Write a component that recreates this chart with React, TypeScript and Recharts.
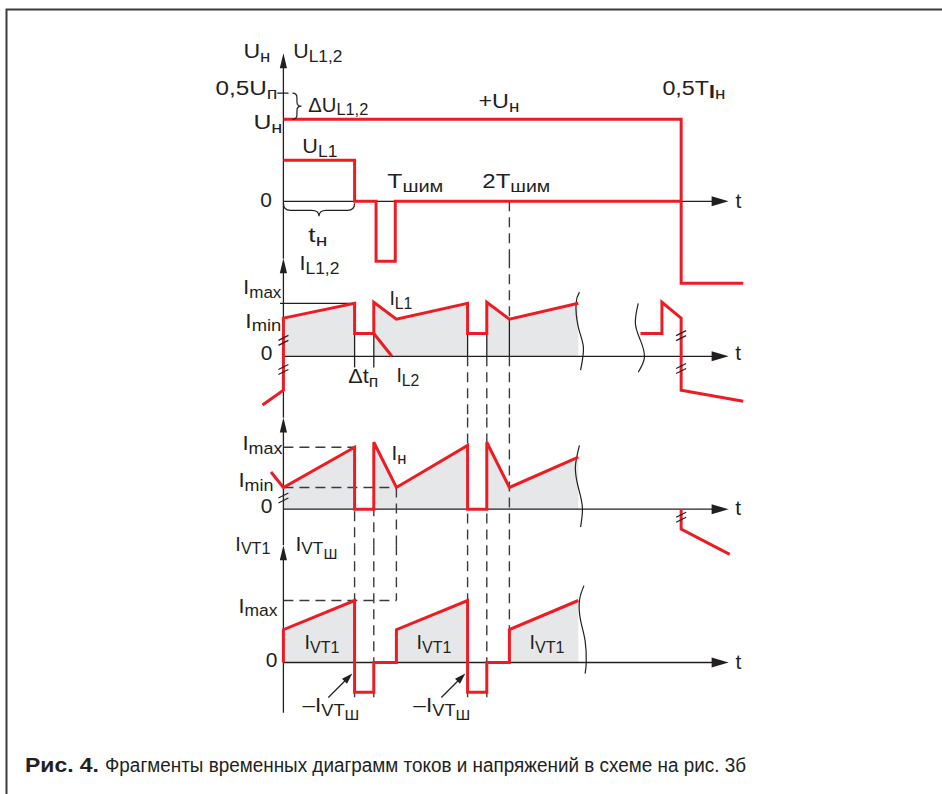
import React from 'react';
import { ComposedChart, Line, Area, XAxis, YAxis, ReferenceDot } from 'recharts';

type Pt = [number, number];
type Seg = [number, number, number, number];
type Part = [string, number, number, boolean?];
type Lbl = [number, number, Part[], 'start' | 'end', number?];

// time axis: 10 units = one PWM period (T_ШИМ)
// U_Н / U_L1,2 waveforms
const uLoad: Pt[] = [[0, 10], [35.2, 10], [35.2, -10], [40.7, -10]];
const uL1: Pt[] = [[0, 5], [6.3, 5], [6.3, 0], [8.2, 0], [8.2, -7.3], [9.9, -7.3], [9.9, 0], [35.2, 0]];

// I_L1,2
const iL1: Pt[] = [[-1.85, -9.2], [0, -6.4], [0, 7.2], [6.3, 10], [6.3, 4.3], [8, 4.3], [8, 10.2], [10, 7], [16.3, 10], [16.3, 4.3], [18, 4.3], [18, 10.2], [20, 7], [26.1, 10]];
const iL1Fill: Pt[] = [[0, 7.2], [6.3, 10], [6.3, 0], [8, 0], [8, 10.2], [10, 7], [16.3, 10], [16.3, 0], [18, 0], [18, 10.2], [20, 7], [26.1, 10]];
const iL2: Pt[] = [[8, 4.3], [9.6, 0]];
const iL1Tail: Pt[] = [[31.6, 4.3], [33.5, 4.3], [33.5, 10.2], [35.2, 7.2], [35.2, -6.4], [40.7, -8.5]];

// I_Н
const iLoad: Pt[] = [[-1.1, 6], [0, 3.5], [6.3, 10], [6.3, 0], [8, 0], [8, 10.8], [10, 3.5], [16.3, 10.3], [16.3, 0], [18, 0], [18, 10.8], [20, 3.5], [26.1, 8.4]];
const iLoadFill: Pt[] = [[0, 3.5], [6.3, 10], [6.3, 0], [8, 0], [8, 10.8], [10, 3.5], [16.3, 10.3], [16.3, 0], [18, 0], [18, 10.8], [20, 3.5], [26.1, 8.4]];
const iLoadTail: Pt[] = [[35.2, 0], [35.2, -3.2], [39.5, -7.3]];

// I_VT1 / I_VTШ
const iVT: Pt[] = [[0, 0], [0, 5.3], [6.3, 10], [6.3, -4.8], [8, -4.8], [8, 0], [10, 0], [10, 5.3], [16.3, 10], [16.3, -4.8], [18, -4.8], [18, 0], [20, 0], [20, 5.3], [26.1, 10]];
const iVTFill: Pt[] = [[0, 5.3], [6.3, 10], [6.3, 0], [10, 0], [10, 5.3], [16.3, 10], [16.3, 0], [20, 0], [20, 5.3], [26.1, 10]];

// break (wavy) lines
const cut2a: Pt[] = [[26.2, 12.1], [25.9, 10], [26.1, 5.5], [26.55, 1.7], [26.3, -2.6]];
const cut2b: Pt[] = [[31.4, 10], [31.15, 6.2], [31.6, 3], [31.95, -0.2], [31.4, -3]];
const cut3: Pt[] = [[26.2, 10.3], [25.84, 6.8], [26.1, 3.5], [26.46, 0.3], [26.3, -2.9]];
const cut4: Pt[] = [[26.6, 12.4], [26.2, 10], [26.3, 6.8], [26.7, 3.5], [26.8, 0], [26.7, -1.8]];

const RED = '#ec1c24';
const INK = '#231f20';
const DASH = '#3a3a3a';
const FILL = '#e6e7e8';
const FONT = '"Liberation Sans", Arial, Helvetica, sans-serif';

const X0 = 283;
const XU = 11.3;
const X_MIN = -8;
const X_MAX = 44;
const LEFT = X0 + X_MIN * XU;
const WIDTH = (X_MAX - X_MIN) * XU;

type Frame = { zero: number; ppu: number; lo: number; hi: number };
const F1: Frame = { zero: 201, ppu: 8.2, lo: -11, hi: 21.5 };
const F2: Frame = { zero: 356, ppu: 5.3, lo: -12, hi: 21 };
const F3: Frame = { zero: 509, ppu: 6.2, lo: -8.5, hi: 16 };
const F4: Frame = { zero: 662, ppu: 6.2, lo: -11.5, hi: 22.5 };

const M = (s: string): Part => [s, 0, 21];
const S = (s: string): Part => [s, 3.5, 17];
const SS = (s: string): Part => [s, 8, 15];

const labels1: Lbl[] = [
  [-3.54, 17.44, [M('U'), S('н')], 'start', 27],
  [0.88, 17.44, [M('U'), S('L1,2')], 'start', 49],
  [-0.53, 12.93, [M('0,5U'), S('п')], 'end', 62],
  [2.2, 10.9, [M('ΔU'), S('L1,2')], 'start', 60],
  [-2.65, 8.78, [M('U'), S('н')], 'start', 29],
  [1.68, 5.85, [M('U'), S('L1')], 'start', 35],
  [-2.04, -0.73, [M('0')], 'start'],
  [2.21, -5.0, [M('t'), S('н')], 'start', 19],
  [9.2, 1.59, [M('T'), S('шим')], 'start', 56],
  [17.6, 1.59, [M('2T'), S('шим')], 'start', 68],
  [17.26, 11.34, [M('+U'), S('н')], 'start', 41],
  [33.54, 12.93, [M('0,5T'), ['I', 2.5, 19, true], S('н')], 'start', 63],
  [40, -0.85, [M('t')], 'start'],
];
const labels2: Lbl[] = [
  [1.42, 16.2, [M('I'), S('L1,2')], 'start', 40],
  [-0.18, 11.7, [M('I'), S('max')], 'end', 38],
  [-0.18, 5.38, [M('I'), S('min')], 'end', 36],
  [-0.97, -0.75, [M('0')], 'end'],
  [9.38, 9.62, [M('I'), S('L1')], 'start', 23],
  [5.75, -5.1, [M('Δt'), S('п')], 'start', 30],
  [10, -4.9, [M('I'), S('L2')], 'start', 23],
  [40, -0.75, [M('t')], 'start'],
];
const labels3: Lbl[] = [
  [-0.09, 9.5, [M('I'), S('max')], 'end', 40],
  [9.56, 7.9, [M('I'), S('н')], 'start', 15],
  [-0.88, 3.55, [M('I'), S('min')], 'end', 35],
  [-0.97, -0.65, [M('0')], 'end'],
  [40, -0.97, [M('t')], 'start'],
];
const labels4: Lbl[] = [
  [-4.25, 18.06, [M('I'), S('VT1')], 'start', 35],
  [1.06, 18.06, [M('I'), S('VT'), SS('Ш')], 'start', 42],
  [-0.53, 8.06, [M('I'), S('max')], 'end', 39],
  [-0.53, -0.8, [M('0')], 'end'],
  [1.86, 2.1, [M('I'), S('VT1')], 'start', 35],
  [11.77, 2.1, [M('I'), S('VT1')], 'start', 35],
  [21.77, 2.1, [M('I'), S('VT1')], 'start', 35],
  [1.68, -8.06, [M('–I'), S('VT'), SS('Ш')], 'start', 57],
  [11.5, -8.06, [M('–I'), S('VT'), SS('Ш')], 'start', 57],
  [40, -0.97, [M('t')], 'start'],
];

// axes and guide lines, [t1, v1, t2, v2]
const solid1: Seg[] = [[0, -7, 0, 17], [0, 0, 38.5, 0], [-0.55, 13.2, 0.45, 13.2]];
const dashed1: Seg[] = [[20, 0, 20, -7]];
const solid2: Seg[] = [[0, -11.6, 0, 17.5], [0, 0, 38.5, 0], [-0.3, 10, 6.3, 10], [6.3, 4.3, 6.3, -2.1], [8, 4.3, 8, -2.1], [16.3, 4.3, 16.3, 0], [18, 4.3, 18, 0], [20, 7, 20, 0]];
const dashed2: Seg[] = [[16.3, 0, 16.3, -11.6], [18, 0, 18, -11.6], [20, 0, 20, -11.6], [20, 18.5, 20, 7]];
const solid3: Seg[] = [[0, -5.8, 0, 13.8], [0, 0, 38.5, 0]];
const dashed3: Seg[] = [[0, 10, 6.3, 10], [0, 3.5, 10, 3.5], [6.3, 10, 6.3, -5.8], [8, 10.8, 8, -5.8], [10, 3.5, 10, -5.8], [16.3, 14.8, 16.3, -5.8], [18, 14.8, 18, -5.8], [20, 14.8, 20, -5.8]];
const solid4: Seg[] = [[0, -8.1, 0, 17.9], [0, 0, 38.5, 0]];
const dashed4: Seg[] = [[0, 10, 10, 10], [6.3, 18.9, 6.3, -5.6], [8, 18.9, 8, -5.6], [10, 18.9, 10, 10], [16.3, 18.9, 16.3, -5.6], [18, 18.9, 18, -5.6], [20, 18.9, 20, 5.3]];

const rows = (p: Pt[]) => p.map(([t, v]) => ({ t, v }));

const red = (p: Pt[], k: string) => (
  <Line key={k} data={rows(p)} dataKey="v" type="linear" stroke={RED} strokeWidth={3} strokeLinejoin="miter" dot={false} activeDot={false} isAnimationActive={false} />
);
const shade = (p: Pt[], k: string) => (
  <Area key={k} data={rows(p)} dataKey="v" type="linear" stroke="none" fill={FILL} fillOpacity={1} baseValue={0} dot={false} activeDot={false} isAnimationActive={false} />
);
const guides = (segs: Seg[], dashed: boolean, k: string) =>
  segs.map((s, i) => (
    <Line
      key={`${k}${i}`}
      data={rows([[s[0], s[1]], [s[2], s[3]]])}
      dataKey="v"
      type="linear"
      stroke={dashed ? DASH : INK}
      strokeWidth={dashed ? 1.4 : 1.3}
      strokeDasharray={dashed ? '10 6' : undefined}
      dot={false}
      activeDot={false}
      isAnimationActive={false}
    />
  ));
const cut = (p: Pt[], k: string) => (
  <Line key={k} data={rows(p)} dataKey="v" type="natural" stroke={INK} strokeWidth={1.2} dot={false} activeDot={false} isAnimationActive={false} />
);

function Tx({ cx, cy, parts, anchor, w }: { cx: number; cy: number; parts: Part[]; anchor: 'start' | 'end'; w?: number }) {
  let prev = 0;
  return (
    <text x={cx} y={cy} textAnchor={anchor} fontFamily={FONT} fill={INK} textLength={w} lengthAdjust={w ? 'spacingAndGlyphs' : undefined}>
      {parts.map(([s, shift, size, bold], i) => {
        const dy = shift - prev;
        prev = shift;
        return (
          <tspan key={i} dy={dy} fontSize={size} fontWeight={bold ? 700 : 400}>
            {s}
          </tspan>
        );
      })}
    </text>
  );
}

const mark = (x: number, y: number, draw: (cx: number, cy: number) => React.ReactElement, k: string) => (
  <ReferenceDot key={k} x={x} y={y} r={1} ifOverflow="visible" shape={(p: any) => draw(p.cx, p.cy)} />
);

const texts = (list: Lbl[], k: string) =>
  list.map(([x, y, parts, anchor, w], i) =>
    mark(x, y, (cx, cy) => <Tx cx={cx} cy={cy} parts={parts} anchor={anchor} w={w} />, `${k}${i}`)
  );

const upHead = (cx: number, cy: number) => <path d={`M${cx},${cy} L${cx - 3.6},${cy + 15} L${cx + 3.6},${cy + 15} Z`} fill={INK} />;
const rightHead = (cx: number, cy: number) => <path d={`M${cx},${cy} L${cx - 17},${cy - 5} L${cx - 17},${cy + 5} Z`} fill={INK} />;
const slashes = (cx: number, cy: number) => (
  <path d={`M${cx - 5},${cy} L${cx + 5},${cy - 5} M${cx - 5},${cy + 5} L${cx + 5},${cy}`} stroke={INK} strokeWidth={1.2} fill="none" />
);
const pointer = (cx: number, cy: number) => (
  <g>
    <path d={`M${cx - 24},${cy + 24} L${cx - 6},${cy + 6}`} stroke={INK} strokeWidth={1.2} />
    <path d={`M${cx},${cy} L${cx - 5.3},${cy + 10.3} L${cx - 10.3},${cy + 5.3} Z`} fill={INK} />
  </g>
);

// vertical brace, tip to the right
const vBrace = (x: number, y1: number, y2: number, w: number) => {
  const ym = (y1 + y2) / 2;
  const r = w / 2;
  return `M${x},${y1} Q${x + r},${y1} ${x + r},${y1 + r} L${x + r},${ym - r} Q${x + r},${ym} ${x + w},${ym} Q${x + r},${ym} ${x + r},${ym + r} L${x + r},${y2 - r} Q${x + r},${y2} ${x},${y2}`;
};
// horizontal brace, tip downwards
const hBrace = (x1: number, x2: number, y: number, r: number, w: number) => {
  const xm = (x1 + x2) / 2;
  return `M${x1},${y} Q${x1},${y + r} ${x1 + r},${y + r} L${xm - r},${y + r} Q${xm},${y + r} ${xm},${y + w} Q${xm},${y + r} ${xm + r},${y + r} L${x2 - r},${y + r} Q${x2},${y + r} ${x2},${y}`;
};

function Panel({ f, children }: { f: Frame; children: React.ReactNode }) {
  return (
    <div style={{ position: 'absolute', left: LEFT, top: f.zero - f.hi * f.ppu }}>
      <ComposedChart width={WIDTH} height={(f.hi - f.lo) * f.ppu} margin={{ top: 0, right: 0, bottom: 0, left: 0 }}>
        <XAxis type="number" dataKey="t" domain={[X_MIN, X_MAX]} allowDataOverflow hide />
        <YAxis type="number" dataKey="v" domain={[f.lo, f.hi]} allowDataOverflow hide />
        {children}
      </ComposedChart>
    </div>
  );
}

export default function App() {
  return (
    <div style={{ position: 'absolute', left: 0, top: 0, width: 942, height: 794, background: '#fff', overflow: 'hidden' }}>
      <svg width={942} height={794} style={{ position: 'absolute', left: 0, top: 0 }}>
        <path d="M6.5,794 L6.5,9.5 L942,9.5" fill="none" stroke="#3b3b3b" strokeWidth={2} />
        <text x={25} y={772} fontFamily={FONT} fontSize={20} fontWeight={700} fill={INK} textLength={74} lengthAdjust="spacingAndGlyphs">
          Рис. 4.
        </text>
        <text x={105} y={772} fontFamily={FONT} fontSize={20} fill={INK} textLength={641} lengthAdjust="spacingAndGlyphs">
          Фрагменты временных диаграмм токов и напряжений в схеме на рис. 3б
        </text>
      </svg>

      <Panel f={F1}>
        {guides(solid1, false, 's1')}
        {guides(dashed1, true, 'd1')}
        {red(uLoad, 'uLoad')}
        {red(uL1, 'uL1')}
        {mark(0, 18.05, upHead, 'a1')}
        {mark(39.4, 0, rightHead, 'b1')}
        {mark(0.8, 13.2, (cx, cy) => <path d={vBrace(cx, cy, cy + 3.2 * F1.ppu, 9)} fill="none" stroke={INK} strokeWidth={1.2} />, 'br1')}
        {mark(0, 0, (cx, cy) => <path d={hBrace(cx, cx + 6.3 * XU, cy + 2, 7, 13)} fill="none" stroke={INK} strokeWidth={1.2} />, 'br2')}
        {texts(labels1, 'l1')}
      </Panel>

      <Panel f={F2}>
        {shade(iL1Fill, 'f2')}
        {guides(solid2, false, 's2')}
        {guides(dashed2, true, 'd2')}
        {cut(cut2a, 'c2a')}
        {cut(cut2b, 'c2b')}
        {red(iL1, 'iL1')}
        {red(iL2, 'iL2')}
        {red(iL1Tail, 'iL1Tail')}
        {mark(0, 18.5, upHead, 'a2')}
        {mark(39.4, 0, rightHead, 'b2')}
        {mark(0, 3.0, slashes, 'x2a')}
        {mark(0, -2.5, slashes, 'x2b')}
        {mark(35.2, 3.9, slashes, 'x2c')}
        {mark(35.2, -2.3, slashes, 'x2d')}
        {texts(labels2, 'l2')}
      </Panel>

      <Panel f={F3}>
        {shade(iLoadFill, 'f3')}
        {guides(solid3, false, 's3')}
        {guides(dashed3, true, 'd3')}
        {cut(cut3, 'c3')}
        {red(iLoad, 'iLoad')}
        {red(iLoadTail, 'iLoadTail')}
        {mark(0, 14.8, upHead, 'a3')}
        {mark(39.4, 0, rightHead, 'b3')}
        {mark(0, 1.8, slashes, 'x3a')}
        {mark(35.2, -1.3, slashes, 'x3b')}
        {texts(labels3, 'l3')}
      </Panel>

      <Panel f={F4}>
        {shade(iVTFill, 'f4')}
        {guides(solid4, false, 's4')}
        {guides(dashed4, true, 'd4')}
        {cut(cut4, 'c4')}
        {red(iVT, 'iVT')}
        {mark(0, 18.9, upHead, 'a4')}
        {mark(39.4, 0, rightHead, 'b4')}
        {mark(6.1, -1.77, pointer, 'p4a')}
        {mark(16.1, -1.77, pointer, 'p4b')}
        {texts(labels4, 'l4')}
      </Panel>
    </div>
  );
}
